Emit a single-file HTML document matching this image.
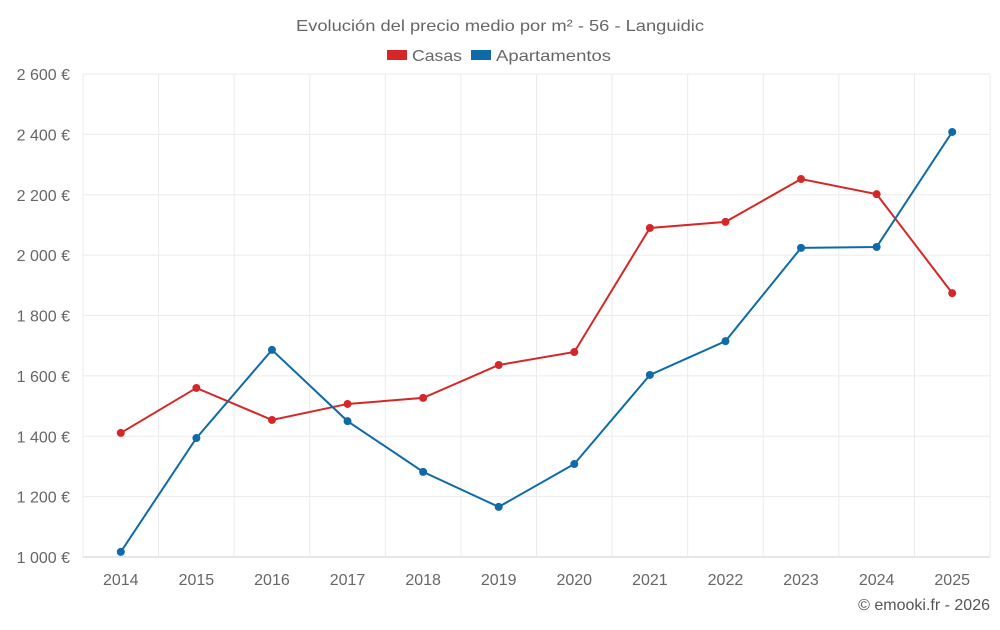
<!DOCTYPE html>
<html><head><meta charset="utf-8"><style>
body{margin:0;background:#fff;font-family:"Liberation Sans",sans-serif;}
svg text{font-family:"Liberation Sans",sans-serif;}
</style></head><body>
<svg id="chart" width="1000" height="625">
<text x="296" y="31" textLength="408" lengthAdjust="spacingAndGlyphs" font-size="16" fill="#666">Evolución del precio medio por m² - 56 - Languidic</text>
<g>
<g><rect x="387" y="50" width="20" height="10" fill="#d62728"/><text x="412" y="61" textLength="50" lengthAdjust="spacingAndGlyphs" font-size="16" fill="#666">Casas</text></g>
<g><rect x="471" y="50" width="20" height="10" fill="#0e6aa8"/><text x="496" y="61" textLength="115" lengthAdjust="spacingAndGlyphs" font-size="16" fill="#666">Apartamentos</text></g>
</g>
<g id="grid"></g><g id="series"></g>
<text x="990" y="610" text-anchor="end" font-size="16" fill="#555">© emooki.fr - 2026</text>
</svg>
<script>
const years=["2014","2015","2016","2017","2018","2019","2020","2021","2022","2023","2024","2025"];
const casas=[1411,1560,1454,1507,1527,1636,1679,2090,2110,2252,2202,1874];
const apartamentos=[1017,1394,1686,1450,1282,1166,1308,1603,1715,2024,2027,2408];
const yTicks=[1000,1200,1400,1600,1800,2000,2200,2400,2600];
const yTickLabels=["1 000 €","1 200 €","1 400 €","1 600 €","1 800 €","2 000 €","2 200 €","2 400 €","2 600 €"];
const NS="http://www.w3.org/2000/svg";
const L=83,R=990,T=74,B=557;
const step=(R-L)/years.length;
const xS=i=>L+step*(i+0.5);
const yS=v=>B-(v-1000)/1600*(B-T);
const grid=document.getElementById('grid'),ser=document.getElementById('series');
function mk(tag,attrs,parent){const e=document.createElementNS(NS,tag);for(const k in attrs)e.setAttribute(k,attrs[k]);parent.appendChild(e);return e;}
yTicks.forEach((v,i)=>{
 const l=mk('line',{x1:L,x2:R,y1:yS(v),y2:yS(v),stroke:i==0?'#ccc':'#ebebeb'},grid);
 
 
 const t=mk('text',{x:70,y:yS(v)+6,'text-anchor':'end','font-size':16,fill:'#666'},grid);
 t.textContent=yTickLabels[i];
 
 
});
for(let i=0;i<=years.length;i++){
 const l=mk('line',{x1:L+step*i,x2:L+step*i,y1:T,y2:B,stroke:'#ebebeb'},grid);
 
 
}
years.forEach((y,i)=>{
 const t=mk('text',{x:xS(i),y:585,'text-anchor':'middle','font-size':16,fill:'#666'},grid);
 t.textContent=y;
 
 
});
function draw(vals,color,name){
 const p=mk('polyline',{points:vals.map((v,i)=>xS(i)+','+yS(v)).join(' '),fill:'none',stroke:color,'stroke-width':2},ser);
 
 
 vals.forEach((v,i)=>{
  const c=mk('circle',{cx:xS(i),cy:yS(v),r:4,fill:color},ser);
  
  
 });
}
draw(casas,'#d62728','casas');
draw(apartamentos,'#0e6aa8','apartamentos');
</script>
</body></html>
